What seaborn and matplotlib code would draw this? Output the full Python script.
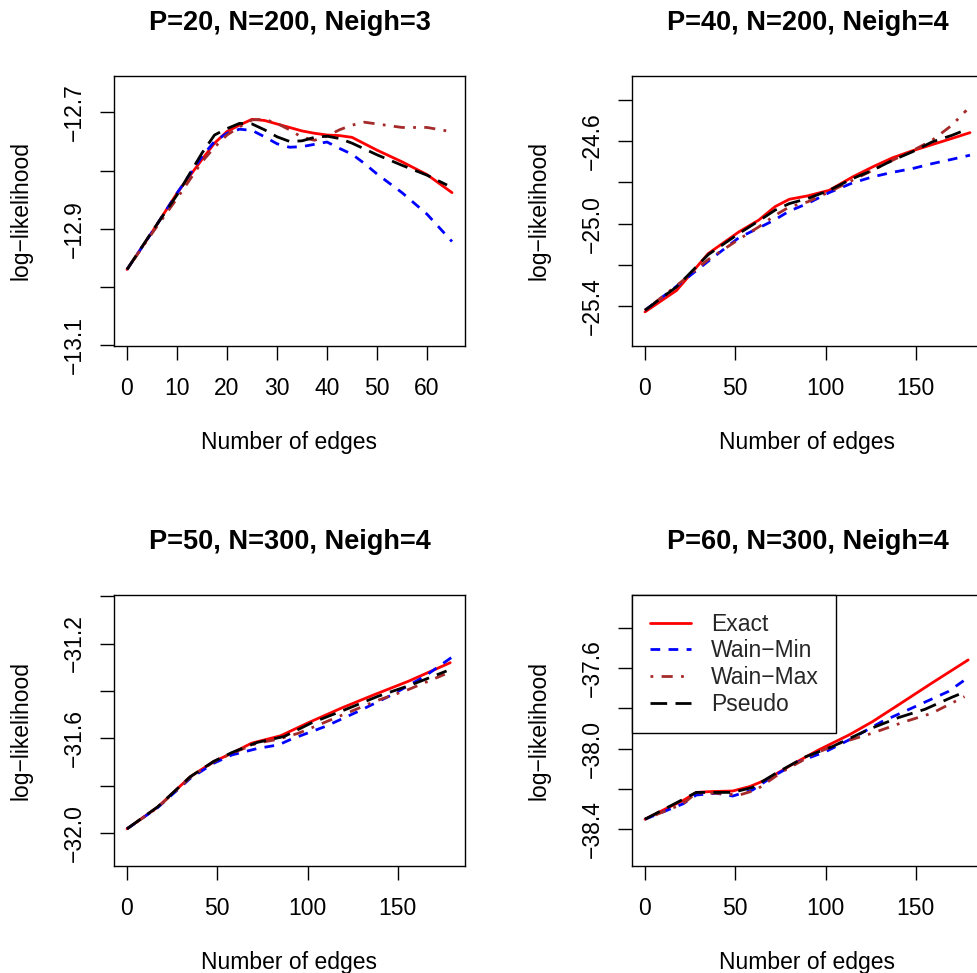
import matplotlib
matplotlib.use("Agg")
import matplotlib.pyplot as plt
import numpy as np
import pandas as pd
import seaborn as sns

sns.set_theme(style="ticks")
plt.rcParams['font.family'] = ['Liberation Sans', 'DejaVu Sans']

# ---------------- data ----------------
methods = ["Exact", "Wain\u2212Min", "Wain\u2212Max", "Pseudo"]
colors = ["#FF0000", "#0000FF", "#A52A2A", "#000000"]

titles = ["P=20, N=200, Neigh=3", "P=40, N=200, Neigh=4",
          "P=50, N=300, Neigh=4", "P=60, N=300, Neigh=4"]

# Panel 1 : P=20
p1_x = [0, 5, 10, 15, 17.5, 20, 22.5, 25, 27.5, 30, 32.5, 35, 37.5, 40, 42.5, 45, 47.5, 50, 55, 60, 65]
p1_exact = [-12.970, -12.906, -12.839, -12.781, -12.753, -12.733, -12.722, -12.712, -12.714, -12.720, -12.726,
            -12.732, -12.736, -12.739, -12.740, -12.743, -12.754, -12.765, -12.785, -12.807, -12.838]
p1_wmin = [-12.970, -12.906, -12.839, -12.776, -12.750, -12.736, -12.729, -12.731, -12.742, -12.754, -12.760,
           -12.759, -12.755, -12.751, -12.762, -12.772, -12.788, -12.806, -12.838, -12.875, -12.922]
p1_x_b = [0, 5, 10, 15, 17.5, 20, 22.5, 25, 27.5, 30, 32.5, 35, 37.5, 40, 42.5, 45, 47.5, 50, 55, 60, 64]
p1_wmax = [-12.970, -12.908, -12.848, -12.785, -12.760, -12.739, -12.725, -12.713, -12.712, -12.719, -12.730,
           -12.743, -12.748, -12.741, -12.730, -12.722, -12.717, -12.720, -12.726, -12.726, -12.732]
p1_pseudo = [-12.970, -12.905, -12.842, -12.770, -12.739, -12.728, -12.719, -12.720, -12.730, -12.742, -12.750,
             -12.749, -12.743, -12.741, -12.745, -12.753, -12.763, -12.773, -12.791, -12.808, -12.825]

# Panel 2 : P=40
p2_x = [0, 17.5, 35, 52, 63, 72, 80, 90, 102, 115, 126, 137, 148, 159, 170, 180]
p2_exact = [-25.427, -25.323, -25.145, -25.040, -24.983, -24.918, -24.882, -24.866, -24.839, -24.774, -24.726,
            -24.682, -24.648, -24.618, -24.588, -24.560]
p2_wmin = [-25.419, -25.303, -25.182, -25.068, -25.021, -24.981, -24.939, -24.903, -24.850, -24.803, -24.774,
           -24.752, -24.734, -24.710, -24.689, -24.669]
p2_x_c = [0, 17.5, 35, 52, 63, 72, 80, 90, 102, 115, 126, 137, 148, 159, 170, 178]
p2_wmax = [-25.419, -25.300, -25.174, -25.076, -25.016, -24.960, -24.919, -24.895, -24.847, -24.790, -24.742,
           -24.694, -24.648, -24.597, -24.524, -24.452]
p2_x_d = [0, 17.5, 35, 52, 63, 72, 80, 90, 102, 115, 126, 137, 148, 159, 170, 176]
p2_pseudo = [-25.419, -25.306, -25.150, -25.048, -24.987, -24.935, -24.903, -24.879, -24.839, -24.782, -24.742,
             -24.694, -24.653, -24.605, -24.573, -24.552]

# Panel 3 : P=50
p3_x_a = [0, 17, 35, 48, 58, 69, 85, 100, 119, 137, 156, 179]
p3_exact = [-31.983, -31.891, -31.763, -31.699, -31.664, -31.621, -31.590, -31.536, -31.472, -31.416, -31.359, -31.281]
p3_x_b = [0, 17, 35, 48, 58, 72.5, 84, 91, 110, 128, 147, 165, 181]
p3_wmin = [-31.983, -31.893, -31.770, -31.706, -31.671, -31.643, -31.628, -31.604, -31.550, -31.487, -31.416, -31.338, -31.252]
p3_x_c = [0, 17, 35, 48, 58, 72, 84, 95, 113, 137.5, 156, 176]
p3_wmax = [-31.983, -31.893, -31.766, -31.700, -31.664, -31.621, -31.604, -31.579, -31.522, -31.444, -31.394, -31.330]
p3_x_d = [0, 17, 35, 48, 58, 72, 87, 102, 121, 139, 158, 177]
p3_pseudo = [-31.983, -31.890, -31.763, -31.698, -31.661, -31.618, -31.593, -31.536, -31.479, -31.423, -31.373, -31.316]

# Panel 4 : P=60
p4_x_a = [0, 12, 21, 28.4, 36, 48.6, 58, 67, 82, 96, 113, 126, 140, 159, 179]
p4_exact = [-38.350, -38.296, -38.258, -38.217, -38.213, -38.210, -38.188, -38.155, -38.076, -38.007, -37.932,
            -37.866, -37.785, -37.674, -37.560]
p4_x_b = [0, 21, 28.4, 39.4, 48.6, 59.6, 70.6, 85.3, 100, 114.7, 131.2, 149.5, 167.9, 177]
p4_wmin = [-38.350, -38.274, -38.230, -38.221, -38.235, -38.205, -38.139, -38.064, -38.015, -37.949, -37.866,
           -37.792, -37.717, -37.660]
p4_x_c = [0, 21, 28.4, 39.4, 52.3, 61.5, 76.1, 92.7, 107.3, 125.7, 144, 158.7, 177]
p4_wmax = [-38.350, -38.274, -38.220, -38.221, -38.230, -38.205, -38.114, -38.031, -37.974, -37.924, -37.866,
           -37.825, -37.742]
p4_x_d = [0, 28.4, 48.6, 59.6, 72.5, 89, 103.7, 124, 140.4, 155, 170, 175.2]
p4_pseudo = [-38.350, -38.217, -38.217, -38.192, -38.122, -38.040, -37.990, -37.904, -37.846, -37.805, -37.745, -37.726]

panels = [
    [(p1_x, p1_exact), (p1_x, p1_wmin), (p1_x_b, p1_wmax), (p1_x_b, p1_pseudo)],
    [(p2_x, p2_exact), (p2_x, p2_wmin), (p2_x_c, p2_wmax), (p2_x_d, p2_pseudo)],
    [(p3_x_a, p3_exact), (p3_x_b, p3_wmin), (p3_x_c, p3_wmax), (p3_x_d, p3_pseudo)],
    [(p4_x_a, p4_exact), (p4_x_b, p4_wmin), (p4_x_c, p4_wmax), (p4_x_d, p4_pseudo)],
]

xticks = [[0, 10, 20, 30, 40, 50, 60], [0, 50, 100, 150], [0, 50, 100, 150], [0, 50, 100, 150]]
yticks = [[-13.1, -13.0, -12.9, -12.8, -12.7],
          [-25.4, -25.2, -25.0, -24.8, -24.6, -24.4],
          [-32.0, -31.8, -31.6, -31.4, -31.2, -31.0],
          [-38.4, -38.2, -38.0, -37.8, -37.6, -37.4]]
ylabels = [["\u221213.1", "", "\u221212.9", "", "\u221212.7"],
           ["\u221225.4", "", "\u221225.0", "", "\u221224.6", ""],
           ["\u221232.0", "", "\u221231.6", "", "\u221231.2", ""],
           ["\u221238.4", "", "\u221238.0", "", "\u221237.6", ""]]
xlims = [(-2.6, 67.6), (-7.2, 187.2), (-7.2, 187.2), (-7.2, 187.2)]
ylims = [(-13.1015, -12.6376), (-25.592, -24.286), (-32.140, -30.995), (-38.582, -37.238)]

# ---------------- styling ----------------
W, H = 978, 973
FS = 16.5
LW = 2.0
styles = ["-", (0, (3.5, 3)), (0, (1, 3, 4, 3)), (0, (6, 3))]

fig = plt.figure(figsize=(W / 100, H / 100), dpi=100)
fig.patch.set_facecolor("white")

boxes = [(114, 76, 465, 346), (632, 76, 983, 346), (114, 595, 465, 866), (632, 595, 983, 866)]

for i, (l, t, r, b) in enumerate(boxes):
    ax = fig.add_axes([l / W, (H - b) / H, (r - l) / W, (b - t) / H])
    ax.set_facecolor("white")
    for k, (xs, ys) in enumerate(panels[i]):
        df = pd.DataFrame({"edges": xs, "ll": ys})
        sns.lineplot(data=df, x="edges", y="ll", ax=ax, color=colors[k], linestyle=styles[k],
                     linewidth=LW, estimator=None, sort=False, legend=False, label=methods[k])
    ax.set_xlim(*xlims[i])
    ax.set_ylim(*ylims[i])
    ax.set_xticks(xticks[i])
    ax.set_xticklabels([str(v) for v in xticks[i]])
    ax.set_yticks(yticks[i])
    ax.set_yticklabels(ylabels[i], rotation=90, va="center")
    ax.tick_params(axis="both", direction="out", length=10, width=1.0, color="black",
                   labelsize=FS, labelcolor="black")
    ax.tick_params(axis="x", pad=12)
    ax.tick_params(axis="y", pad=10)
    for s in ax.spines.values():
        s.set_color("black")
        s.set_linewidth(1.0)
    ax.set_title(titles[i], fontsize=19.5, fontweight="bold", pad=33, color="black")
    ax.set_xlabel("Number of edges", fontsize=FS, color="black")
    ax.set_ylabel("log\u2212likelihood", fontsize=FS, color="black")
    ax.xaxis.set_label_coords(0.5, -0.315)
    ax.yaxis.set_label_coords(-0.231, 0.5)
    if i == 3:
        leg = ax.legend(loc="upper left", bbox_to_anchor=(0, 1), borderaxespad=0, fontsize=FS,
                        handlelength=1.8, handletextpad=0.87, borderpad=0.77, labelspacing=0.16,
                        fancybox=False, framealpha=1, edgecolor="black")
        leg.get_frame().set_linewidth(1.0)

fig.savefig("out.png", dpi=100)
